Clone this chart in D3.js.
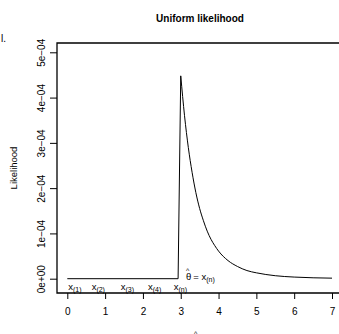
<!DOCTYPE html>
<html>
<head>
<meta charset="utf-8">
<script src="https://cdn.jsdelivr.net/npm/d3@7"></script>
<style>
  body { margin: 0; background: #fff; }
  svg { display: block; font-family: "Liberation Sans", Arial, sans-serif; }
</style>
</head>
<body>
<div id="chart"></div>
<script>
// values
var theta = [0, 2.93, 3.0, 3.1, 3.2, 3.3, 3.4, 3.5, 3.6, 3.7, 3.8, 3.9, 4.0, 4.25, 4.5, 4.75, 5.0, 5.5, 6.0, 6.5, 7.0];
var likelihood = [0, 0, 4.48e-4, 3.6e-4, 2.9e-4, 2.35e-4, 1.9e-4, 1.55e-4, 1.28e-4, 1.05e-4, 0.87e-4, 0.73e-4,
                  0.61e-4, 0.40e-4, 0.27e-4, 0.18e-4, 0.13e-4, 0.066e-4, 0.036e-4, 0.02e-4, 0.012e-4];
var xTicks = [0, 1, 2, 3, 4, 5, 6, 7];
var yTicks = [0, 1e-4, 2e-4, 3e-4, 4e-4, 5e-4];
var yTickLabels = ["0e+00", "1e\u221204", "2e\u221204", "3e\u221204", "4e\u221204", "5e\u221204"];
var sampleNames = ["1", "2", "3", "4", "n"];
var samplePos = [0.2, 0.82, 1.59, 2.31, 2.99];

var W = 339, H = 334;
var box = {left: 57, top: 43, bottom: 293, right: 343};

var svg = d3.select("#chart").append("svg")
  .attr("width", W).attr("height", H);

var x = d3.scaleLinear().domain([0, 7]).range([67.3, 332]);
var y = d3.scaleLinear().domain([0, 5e-4]).range([278.7, 52.3]);

// box (top, left, bottom)
svg.append("path")
  .attr("d", `M${box.right},${box.top}H${box.left}V${box.bottom}H${box.right}`)
  .attr("fill", "none").attr("stroke", "#000").attr("stroke-width", 1.3);

// axes
var xAxis = svg.append("g")
  .attr("transform", `translate(0,${box.bottom})`)
  .call(d3.axisBottom(x).tickValues(xTicks).tickSize(6).tickPadding(9).tickFormat(d3.format("d")));
var yAxis = svg.append("g")
  .attr("transform", `translate(${box.left},0)`)
  .call(d3.axisLeft(y).tickValues(yTicks).tickSize(7).tickFormat((d, i) => yTickLabels[i]));

[xAxis, yAxis].forEach(g => {
  g.select(".domain").remove();
  g.selectAll("line").attr("stroke", "#000").attr("stroke-width", 1);
  g.selectAll("text").attr("fill", "#000").style("font-size", "10px")
    .style("font-family", "'Liberation Sans', Arial, sans-serif");
});
yAxis.selectAll(".tick text")
  .attr("x", null).attr("dy", null)
  .attr("text-anchor", "middle")
  .attr("transform", "translate(-12,0) rotate(-90)");

// curve
var pts = theta.map((t, i) => [t, likelihood[i]]);
var line = d3.line().x(d => x(d[0])).y(d => y(d[1]));
svg.append("path")
  .attr("d", line(pts.slice(0, 3)))
  .attr("fill", "none").attr("stroke", "#000").attr("stroke-width", 1);
svg.append("path")
  .attr("d", line.curve(d3.curveMonotoneX)(pts.slice(2)))
  .attr("fill", "none").attr("stroke", "#000").attr("stroke-width", 1);

// order statistic labels
var lab = svg.append("g").style("font-size", "9.5px").attr("fill", "#000");
sampleNames.forEach((s, i) => {
  var t = lab.append("text")
    .attr("x", x(samplePos[i])).attr("y", 289.5)
    .attr("text-anchor", "middle");
  t.append("tspan").text("x");
  t.append("tspan").attr("dy", 2).style("font-size", "7px").text("(" + s + ")");
});

// theta with a hat on top, as one text
function thetaHat(sel) {
  sel.append("tspan").text("\u03b8");
  sel.append("tspan").attr("dx", -5.3).attr("dy", -6.5).style("font-size", "7px").text("^");
}

// theta hat = x(n)
var th = svg.append("text").attr("x", 186).attr("y", 279.5).style("font-size", "9.5px").attr("fill", "#000");
thetaHat(th);
th.append("tspan").attr("dx", 4).attr("dy", 6.5).text("= x");
th.append("tspan").attr("dy", 2).style("font-size", "7px").text("(n)");

// titles
svg.append("text")
  .attr("x", 200).attr("y", 22)
  .attr("text-anchor", "middle")
  .style("font-size", "10px").style("font-weight", "bold")
  .text("Uniform likelihood");

svg.append("text")
  .attr("transform", "translate(17,168) rotate(-90)")
  .attr("text-anchor", "middle")
  .style("font-size", "9.5px")
  .text("Likelihood");

// x label (cut at the bottom of the frame)
thetaHat(svg.append("text").attr("x", 194).attr("y", 342).style("font-size", "9.5px"));

// stray text at the top-left edge
svg.append("text").attr("x", 6).attr("y", 42)
  .attr("text-anchor", "end").style("font-size", "10px").text("l.");
</script>
</body>
</html>
